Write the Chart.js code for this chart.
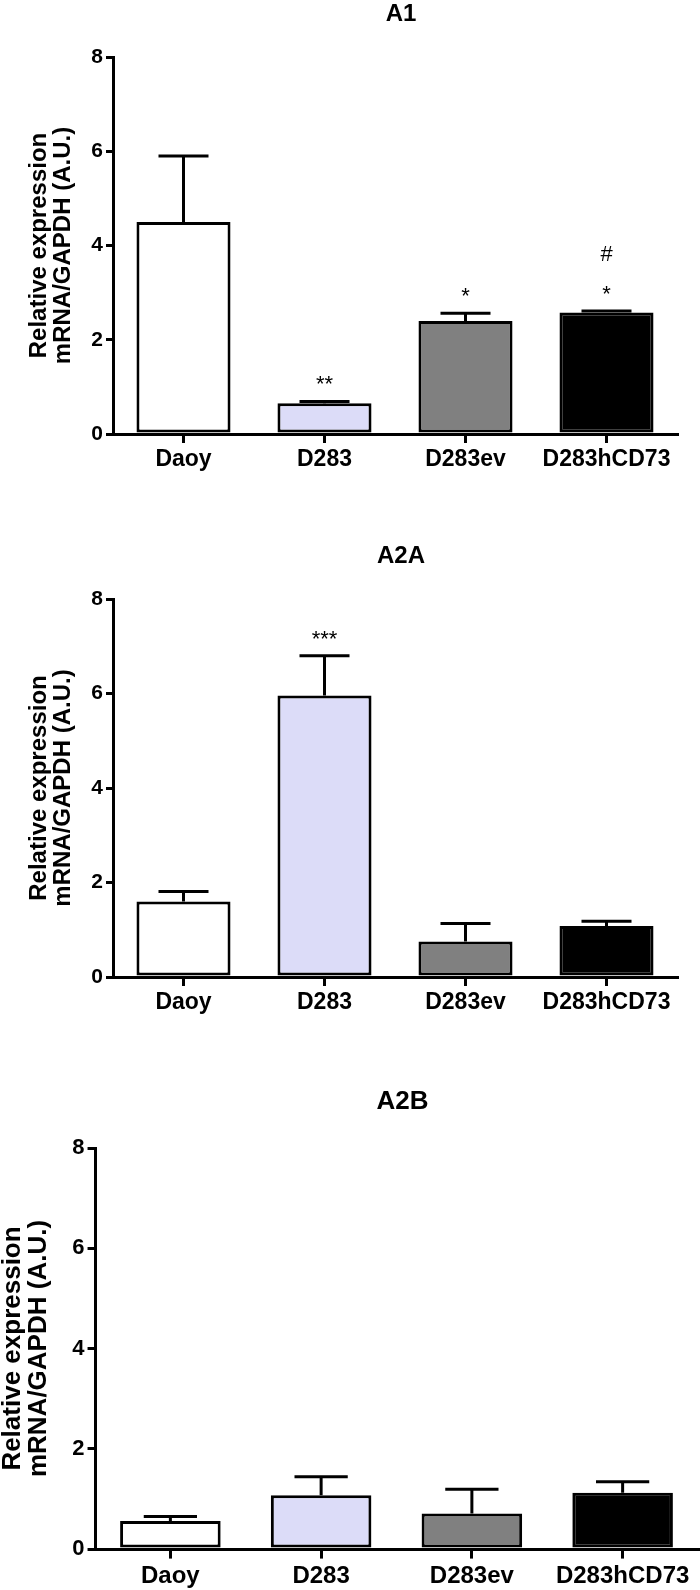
<!DOCTYPE html>
<html>
<head>
<meta charset="utf-8">
<script src="https://cdn.jsdelivr.net/npm/chart.js@4.4.1/dist/chart.umd.min.js"></script>
<style>
    html, body { margin: 0; padding: 0; background: #fff; }
    body { width: 700px; height: 1590px; position: relative; overflow: hidden; }
    .panel { position: absolute; left: 0; width: 700px; }
</style>
</head>
<body>
<div class="panel" style="top:0px;height:490px"><canvas id="chartA1" width="700" height="490"></canvas></div>
<div class="panel" style="top:500px;height:520px"><canvas id="chartA2A" width="700" height="520"></canvas></div>
<div class="panel" style="top:1020px;height:570px"><canvas id="chartA2B" width="700" height="570"></canvas></div>
<script>
const CATEGORIAS = ['Daoy', 'D283', 'D283ev', 'D283hCD73'];
const COLORES_BARRAS = ['#ffffff', '#dcdcf8', '#808080', '#000000'];
const TICKS_Y = [0, 2, 4, 6, 8];
const TITULO_Y = ['Relative expression', 'mRNA/GAPDH (A.U.)'];

// A1
const a1Medias = [4.50, 0.65, 2.40, 2.58];
const a1Errores = [1.40, 0.04, 0.16, 0.03];
const a1Marcas = [[], ['**'], ['*'], ['*', '#']];

// A2A
const a2aMedias = [1.60, 5.96, 0.75, 1.08];
const a2aErrores = [0.21, 0.84, 0.38, 0.10];
const a2aMarcas = [[], ['***'], [], []];

// A2B
const a2bMedias = [0.56, 1.07, 0.71, 1.12];
const a2bErrores = [0.09, 0.37, 0.48, 0.22];
const a2bMarcas = [[], [], [], []];

const FUENTE = '"Liberation Sans", Arial, sans-serif';
Chart.defaults.font.family = FUENTE;
Chart.defaults.color = '#000';

// errores, asteriscos y titulo del panel
const pluginExtras = {
    id: 'extras',
    afterDatasetsDraw(chart, args, opts) {
        const ctx = chart.ctx;
        const meta = chart.getDatasetMeta(0);
        const escalaY = chart.scales.y;
        const area = chart.chartArea;
        const s = opts.escala;
        ctx.save();
        ctx.strokeStyle = '#000';
        ctx.fillStyle = '#000';
        ctx.lineWidth = 3;
        ctx.lineCap = 'butt';
        meta.data.forEach((barra, i) => {
            const base = escalaY.getPixelForValue(opts.medias[i]);
            const tope = escalaY.getPixelForValue(opts.medias[i] + opts.errores[i]);
            ctx.beginPath();
            ctx.moveTo(barra.x, base);
            ctx.lineTo(barra.x, tope);
            ctx.moveTo(barra.x - opts.cap, tope);
            ctx.lineTo(barra.x + opts.cap, tope);
            ctx.stroke();

            ctx.textAlign = 'center';
            ctx.textBaseline = 'alphabetic';
            let yTexto = tope - 10 * s;
            opts.marcas[i].forEach(m => {
                ctx.font = `${Math.round(22 * s)}px ${FUENTE}`;
                ctx.fillText(m, barra.x, yTexto);
                yTexto -= 40 * s;
            });
        });
        ctx.font = `bold ${Math.round(24 * s)}px ${FUENTE}`;
        ctx.textAlign = 'center';
        ctx.textBaseline = 'middle';
        ctx.fillText(opts.titulo, (area.left + area.right) / 2 + 6, opts.tituloY);
        ctx.restore();
    }
};

const crearGrafico = (id, medias, errores, marcas, caja) => {
    const ctx = document.getElementById(id);
    const s = caja.escala;
    return new Chart(ctx, {
        type: 'bar',
        data: {
            labels: CATEGORIAS,
            datasets: [{
                data: medias,
                backgroundColor: COLORES_BARRAS,
                borderColor: '#000',
                borderWidth: 3,
                borderSkipped: false,
                barPercentage: 0.667,
                categoryPercentage: 1
            }]
        },
        options: {
            responsive: false,
            animation: false,
            devicePixelRatio: 1,
            layout: { padding: { top: caja.arriba, right: 700 - caja.der, left: 0, bottom: 0 } },
            plugins: {
                legend: { display: false },
                tooltip: { enabled: false },
                title: { display: false },
                extras: {
                    medias: medias,
                    errores: errores,
                    marcas: marcas,
                    titulo: caja.titulo,
                    tituloY: caja.tituloY,
                    escala: s,
                    cap: 25 * s
                }
            },
            scales: {
                x: {
                    offset: true,
                    border: { display: true, color: '#000', width: 3 },
                    grid: { display: true, offset: false, drawOnChartArea: false, drawTicks: true, tickLength: 9 * s, color: '#000', lineWidth: 3 },
                    ticks: { padding: 3, font: { size: Math.round(23 * s), weight: 'bold' }, color: '#000', maxRotation: 0 },
                    afterFit: (escala) => { escala.height = caja.alto - caja.abajo; }
                },
                y: {
                    min: 0,
                    max: 8,
                    afterBuildTicks: (escala) => { escala.ticks = TICKS_Y.map(v => ({ value: v })); },
                    border: { display: true, color: '#000', width: 3 },
                    grid: { display: true, drawOnChartArea: false, drawTicks: true, tickLength: 7 * s, color: '#000', lineWidth: 3 },
                    ticks: { padding: 3, font: { size: Math.round(21 * s), weight: 'bold' }, color: '#000' },
                    title: {
                        display: true,
                        text: TITULO_Y,
                        color: '#000',
                        font: { size: Math.round(24 * s), weight: 'bold', lineHeight: 1.0 },
                        padding: { top: caja.tituloPad, bottom: 0 }
                    },
                    afterFit: (escala) => { escala.width = caja.izq; }
                }
            }
        },
        plugins: [pluginExtras]
    });
};

crearGrafico('chartA1', a1Medias, a1Errores, a1Marcas,
    { titulo: 'A1', tituloY: 14, arriba: 57, abajo: 434, izq: 113, der: 677, alto: 490, escala: 1, tituloPad: 27 });
crearGrafico('chartA2A', a2aMedias, a2aErrores, a2aMarcas,
    { titulo: 'A2A', tituloY: 56, arriba: 99, abajo: 477, izq: 113, der: 677, alto: 520, escala: 1, tituloPad: 27 });
crearGrafico('chartA2B', a2bMedias, a2bErrores, a2bMarcas,
    { titulo: 'A2B', tituloY: 82, arriba: 128, abajo: 529, izq: 95, der: 698, alto: 570, escala: 1.065, tituloPad: 0 });
</script>
</body>
</html>
